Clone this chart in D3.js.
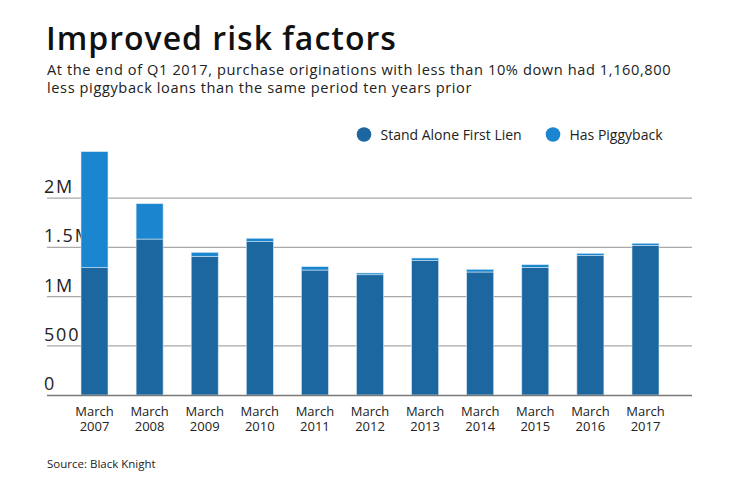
<!DOCTYPE html>
<html>
<head>
<meta charset="utf-8">
<script src="https://cdn.jsdelivr.net/npm/d3@7"></script>
<style>
  html, body { margin: 0; padding: 0; background: #fff; }
  svg { display: block; font-family: "Open Sans", "Lato", sans-serif; }
</style>
</head>
<body>
<svg id="chart" width="740" height="482"></svg>
<script>
const categories = ["March 2007","March 2008","March 2009","March 2010","March 2011","March 2012","March 2013","March 2014","March 2015","March 2016","March 2017"];
const standAlone = [1294000, 1585000, 1410000, 1558000, 1270000, 1222000, 1365000, 1250000, 1298000, 1416000, 1521000];
const piggyback  = [1179000,  359000,   40000,   35000,   34000,   18000,   27000,   27000,   26000,   24000,   21000];
const seriesNames = ["Stand Alone First Lien", "Has Piggyback"];
const seriesColors = ["#1c679f", "#1b86cf"];
const yTicks = [0, 500000, 1000000, 1500000, 2000000];
const yTickLabels = ["0", "500K", "1M", "1.5M", "2M"];

const svg = d3.select("#chart");

// Title & subtitle
svg.append("text").attr("x", 46).attr("y", 50)
  .attr("font-size", 32).attr("font-weight", 600).attr("fill", "#111")
  .style("letter-spacing", "1px")
  .text("Improved risk factors");
svg.append("text").attr("x", 47).attr("y", 75)
  .attr("font-size", 14.6).attr("fill", "#222")
  .style("letter-spacing", "0.6px")
  .text("At the end of Q1 2017, purchase originations with less than 10% down had 1,160,800");
svg.append("text").attr("x", 47).attr("y", 93)
  .attr("font-size", 14.6).attr("fill", "#222")
  .style("letter-spacing", "0.6px")
  .text("less piggyback loans than the same period ten years prior");

// Legend
const legend = svg.append("g");
const legendX = [364, 553];
seriesNames.forEach((name, i) => {
  legend.append("circle").attr("cx", legendX[i]).attr("cy", 134.5).attr("r", 7.3).attr("fill", seriesColors[i]);
  legend.append("text").attr("x", legendX[i] + 16.5).attr("y", 139.5)
    .attr("font-size", 14).attr("fill", "#222").text(name);
});

// Scales
const x = d3.scaleBand().domain(categories).range([52.9, 687.1]).paddingInner(0.51).paddingOuter(0.51);
const y = d3.scaleLinear().domain([0, 2500000]).range([395, 149]);

// Gridlines
svg.append("g").selectAll("line").data(yTicks.slice(1)).join("line")
  .attr("x1", 47).attr("x2", 692)
  .attr("y1", d => y(d)).attr("y2", d => y(d))
  .attr("stroke", "#a9a9a9").attr("stroke-width", 1.2);

// Y tick labels (drawn under bars)
svg.append("g").selectAll("text").data(yTicks).join("text")
  .attr("x", 44).attr("y", d => y(d) - 5)
  .attr("font-size", 18).attr("fill", "#222")
  .style("letter-spacing", "1.8px")
  .text((d, i) => yTickLabels[i]);

// Stacked bars
const rows = categories.map((c, i) => ({cat: c, s0: standAlone[i], s1: piggyback[i]}));
const stack = d3.stack().keys(["s0", "s1"])(rows);
svg.append("g").selectAll("g").data(stack).join("g")
  .attr("fill", (d, i) => seriesColors[i])
  .selectAll("rect").data(d => d).join("rect")
  .attr("x", d => x(d.data.cat))
  .attr("width", x.bandwidth())
  .attr("y", d => y(d[1]))
  .attr("height", d => y(d[0]) - y(d[1]))
  .attr("stroke", "#d4e6f4").attr("stroke-width", 0.6);

// X axis line
svg.append("line").attr("x1", 47).attr("x2", 692).attr("y1", 395.5).attr("y2", 395.5)
  .attr("stroke", "#7a7a7a").attr("stroke-width", 1.5);

// X labels
const xl = svg.append("g").selectAll("text").data(categories).join("text")
  .attr("text-anchor", "middle").attr("font-size", 13).attr("fill", "#222")
  .attr("x", d => x(d) + x.bandwidth() / 2).attr("y", 415.5);
xl.append("tspan").attr("x", d => x(d) + x.bandwidth() / 2).text(d => d.split(" ")[0]);
xl.append("tspan").attr("x", d => x(d) + x.bandwidth() / 2).attr("dy", 15.5).text(d => d.split(" ")[1]);

// Source
svg.append("text").attr("x", 47).attr("y", 467.5).attr("font-size", 11.5).attr("fill", "#222")
  .text("Source: Black Knight");
</script>
</body>
</html>
